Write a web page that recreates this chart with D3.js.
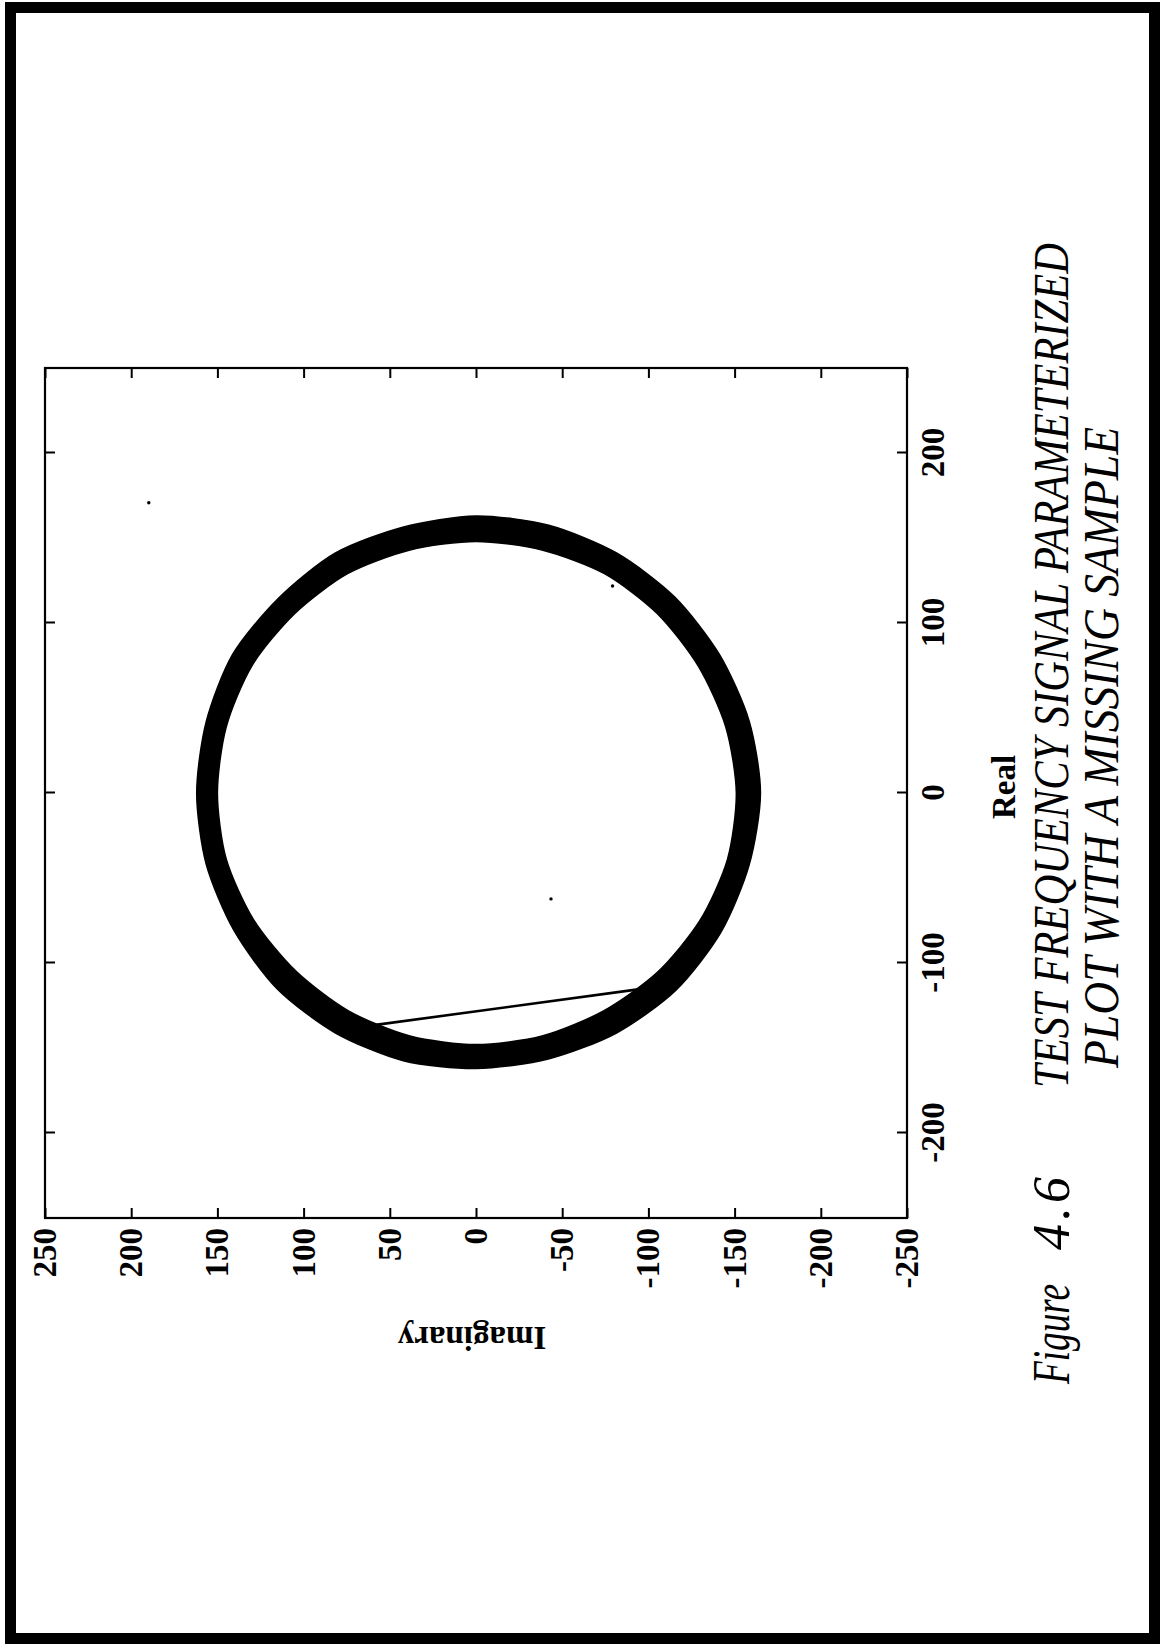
<!DOCTYPE html>
<html>
<head>
<meta charset="utf-8">
<script src="https://cdn.jsdelivr.net/npm/d3@7"></script>
<style>
  html, body { margin: 0; padding: 0; background: #fff; }
  svg { display: block; }
</style>
</head>
<body>
<svg id="page" width="1162" height="1644"></svg>
<script>
// ---------------- data ----------------
const realTicks = [-200, -100, 0, 100, 200];
const imagTicks = [250, 200, 150, 100, 50, 0, -50, -100, -150, -200, -250];
const realDomain = [-250, 250];
const imagDomain = [250, -250];

// thick band of overlapping revolutions: angle (deg, from +Real toward +Imag),
// outer and inner radius of the band
const bandAngle = [0, 15, 30, 45, 60, 75, 90, 105, 120, 135, 150, 165, 180, 195, 210, 225, 240, 255, 270, 285, 300, 315, 330, 345];
const bandOuter = [163, 162, 163, 162, 163, 162, 162, 162, 162, 163, 163, 163, 162, 162, 163, 164, 164, 164, 165, 164, 163, 163, 163, 163];
const bandInner = [148, 148, 149, 149, 150, 150, 150, 150, 149, 148, 148, 148, 148, 148, 148, 149, 150, 151, 151, 150, 149, 149, 149, 148];

// the missing-sample jump (real, imag)
const chordReal = [-136.7, -115.5];
const chordImag = [60.3, -94.0];

// stray single samples (real, imag)
const dotReal = [170.7, -62.3, 121.8];
const dotImag = [189.8, -43.5, -79.2];

const axisLabelX = "Real";
const axisLabelY = "Imaginary";
const figLabel = ["Figure", "4.6"];
const captionLines = ["TEST FREQUENCY SIGNAL PARAMETERIZED", "PLOT WITH A MISSING SAMPLE"];

// ---------------- layout ----------------
const svg = d3.select("#page");
const serif = "'Liberation Serif', 'Times New Roman', Times, serif";

// page frame
svg.append("rect")
  .attr("x", 10.5).attr("y", 7.5)
  .attr("width", 1144).attr("height", 1631)
  .attr("fill", "none").attr("stroke", "#000").attr("stroke-width", 11);

// plot box on the page: left 45, right 907, top 368, bottom 1218
const boxLeft = 45, boxBottom = 1218;
const W = 850;   // along the Real axis (page vertical)
const H = 862;   // along the Imag axis (page horizontal)

// figure drawn in its own landscape orientation, then turned onto the page
const g = svg.append("g").attr("transform", `translate(${boxLeft},${boxBottom}) rotate(-90)`);

const x = d3.scaleLinear().domain(realDomain).range([0, W]);
const y = d3.scaleLinear().domain(imagDomain).range([0, H]);

// band
const rad = Math.PI / 180;
const ring = (radii) => bandAngle.map((a, i) => [x(radii[i] * Math.cos(a * rad)), y(radii[i] * Math.sin(a * rad))]);
const ringLine = d3.line().curve(d3.curveCardinalClosed.tension(0.2));
g.append("path")
  .attr("d", ringLine(ring(bandOuter)) + ringLine(ring(bandInner).reverse()))
  .attr("fill", "#000")
  .attr("fill-rule", "evenodd")
  .attr("stroke", "#000")
  .attr("stroke-width", 1.5);

// chord
g.append("path")
  .attr("d", d3.line()(chordReal.map((r, i) => [x(r), y(chordImag[i])])))
  .attr("fill", "none").attr("stroke", "#000").attr("stroke-width", 2.6);

// stray dots
g.selectAll("circle.dot").data(dotReal).join("circle")
  .attr("class", "dot")
  .attr("cx", d => x(d))
  .attr("cy", (d, i) => y(dotImag[i]))
  .attr("r", 1.7)
  .attr("fill", "#000");

// axes (ticks inward on all four sides)
const tick = 10;
const fmt = d => String(d);
const styleAxis = sel => {
  sel.select(".domain").remove();
  sel.selectAll(".tick line").attr("stroke", "#000").attr("stroke-width", 2);
  sel.selectAll(".tick text")
    .attr("fill", "#000")
    .style("font-family", serif)
    .style("font-weight", "bold")
    .style("font-size", "33px");
};

g.append("g").attr("transform", `translate(0,${H})`)
  .call(d3.axisBottom(x).tickValues(realTicks).tickSizeInner(-tick).tickSizeOuter(0).tickPadding(14).tickFormat(fmt))
  .call(styleAxis);
g.append("g")
  .call(d3.axisTop(x).tickValues(realTicks).tickSizeInner(-tick).tickSizeOuter(0).tickFormat(""))
  .call(styleAxis);
g.append("g")
  .call(d3.axisLeft(y).tickValues(imagTicks).tickSizeInner(-tick).tickSizeOuter(0).tickPadding(10).tickFormat(fmt))
  .call(styleAxis);
g.append("g").attr("transform", `translate(${W},0)`)
  .call(d3.axisRight(y).tickValues(imagTicks).tickSizeInner(-tick).tickSizeOuter(0).tickFormat(""))
  .call(styleAxis);

// box
g.append("rect").attr("x", 0).attr("y", 0).attr("width", W).attr("height", H)
  .attr("fill", "none").attr("stroke", "#000").attr("stroke-width", 2.2);

// axis titles
g.append("text")
  .attr("x", W / 2 + 6).attr("y", H + 108)
  .attr("text-anchor", "middle")
  .style("font-family", serif).style("font-weight", "bold").style("font-size", "33px")
  .text(axisLabelX);
g.append("text")
  .attr("transform", `translate(-109,${H / 2 - 4}) rotate(-90)`)
  .attr("text-anchor", "middle")
  .style("font-family", serif).style("font-weight", "bold").style("font-size", "33px")
  .text(axisLabelY);

// caption (rotated, condensed italic)
const cap = (txt, px, py, len, size) => {
  const t = svg.append("text")
    .attr("transform", `translate(${px},${py}) rotate(-90)`)
    .style("font-family", serif).style("font-style", "italic").style("font-size", size + "px")
    .attr("fill", "#000")
    .text(txt);
  if (len) t.attr("textLength", len).attr("lengthAdjust", "spacingAndGlyphs");
  return t;
};

cap(figLabel[0], 1069, 1384, 100, 52);
cap(figLabel[1], 1069, 1250, null, 52).style("letter-spacing", "4px");
cap(captionLines[0], 1068, 1088, 845, 50);
cap(captionLines[1], 1118, 1068, 641, 50);
</script>
</body>
</html>
